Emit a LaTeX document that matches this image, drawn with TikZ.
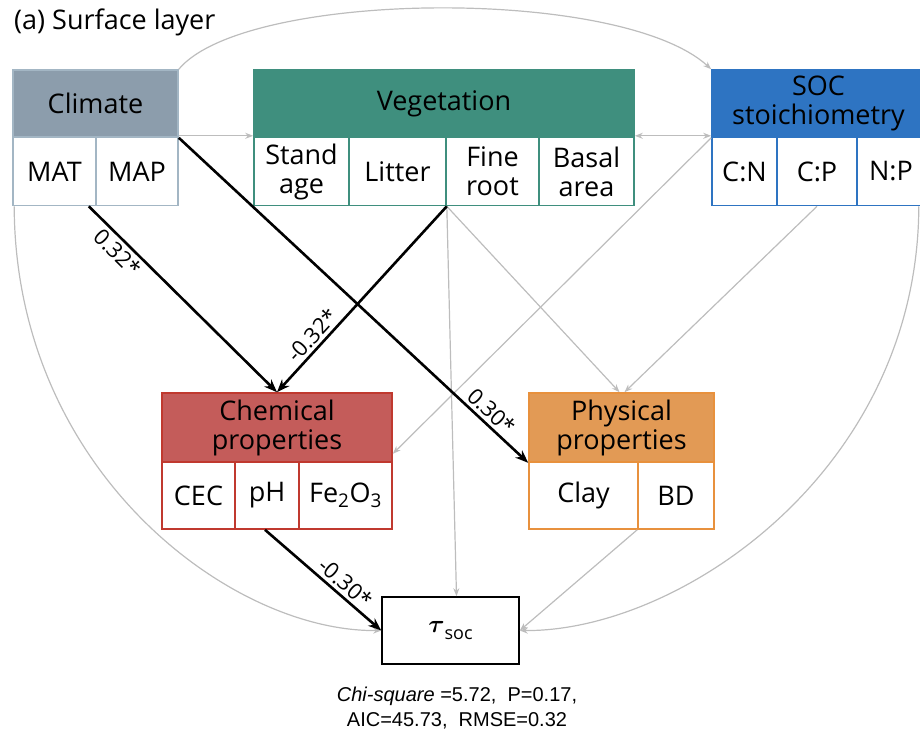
\documentclass[tikz,border=0pt]{standalone}
\usepackage{fontspec}
\setmainfont{Open Sans}
\newfontfamily\statfont{Liberation Sans}
\usepackage{bm}
\usetikzlibrary{arrows.meta,calc}
\definecolor{climF}{HTML}{8C9DAC}
\definecolor{climB}{HTML}{A3B6C4}
\definecolor{vegF}{HTML}{3F8F7E}
\definecolor{vegB}{HTML}{3F8F7E}
\definecolor{socF}{HTML}{2E74C2}
\definecolor{socB}{HTML}{2E74C2}
\definecolor{chemF}{HTML}{C45C5A}
\definecolor{chemB}{HTML}{C0392F}
\definecolor{physF}{HTML}{E29A55}
\definecolor{physB}{HTML}{E8913D}
\definecolor{lgray}{HTML}{BDBDBD}
\begin{document}
\begin{tikzpicture}[x=1pt,y=-1pt,
  font=\fontsize{27}{30}\selectfont,
  box/.style={draw, inner sep=0pt, align=center, line width=1.6pt},
  hdr/.style={box, minimum height=67pt},
  cell/.style={box, fill=white, minimum height=68pt},
  strong/.style={draw=black, line width=2.6pt, -{Stealth[length=13pt,width=10pt]}},
  weak/.style={draw=lgray, line width=1.2pt, -{Stealth[length=8pt,width=6pt]}},
  weakboth/.style={draw=lgray, line width=1.2pt, {Stealth[length=8pt,width=6pt]}-{Stealth[length=8pt,width=6pt]}},
  coef/.style={font=\fontsize{22}{24}\selectfont, inner sep=3pt}
]
\useasboundingbox (0,0) rectangle (920,736);

% title
\node[anchor=west, inner sep=0pt] (title) at (14,22) {(a) Surface layer};

% Climate
\node[hdr, fill=climF, draw=climB, minimum width=165pt] (climh) at (95.5,103.5) {Climate};
\node[cell, draw=climB, minimum width=83pt] (mat) at (54.5,171.5) {MAT};
\node[cell, draw=climB, minimum width=82pt] (map) at (137,171.5) {MAP};

% Vegetation
\node[hdr, fill=vegF, draw=vegB, minimum width=380pt] (vegh) at (444,103.5) {Vegetation};
\node[cell, draw=vegB, minimum width=95pt, font=\fontsize{27}{29}\selectfont] (stand) at (301.5,171.5) {Stand\\age};
\node[cell, draw=vegB, minimum width=97pt] (litter) at (397.5,171.5) {Litter};
\node[cell, draw=vegB, minimum width=93pt, font=\fontsize{27}{29}\selectfont] (fine) at (492.5,171.5) {Fine\\root};
\node[cell, draw=vegB, minimum width=95pt, font=\fontsize{27}{29}\selectfont] (basal) at (586.5,171.5) {Basal\\area};

% SOC stoichiometry
\node[hdr, fill=socF, draw=socB, minimum width=213pt, font=\fontsize{27}{29}\selectfont] (soch) at (818.5,103.5) {SOC\\stoichiometry};
\node[cell, draw=socB, minimum width=65pt] (cn) at (744.5,171.5) {C:N};
\node[cell, draw=socB, minimum width=80pt] (cp) at (817,171.5) {C:P};
\node[cell, draw=socB, minimum width=68pt] (np) at (891,171.5) {N:P};

% Chemical properties
\node[hdr, fill=chemF, draw=chemB, minimum width=230pt, minimum height=69pt, font=\fontsize{27}{29}\selectfont] (chemh) at (277,427.5) {Chemical\\properties};
\node[cell, draw=chemB, minimum width=73pt, minimum height=67pt] (cec) at (198.5,495.5) {CEC};
\node[cell, draw=chemB, minimum width=64pt, minimum height=67pt] (ph) at (267,495.5) {pH};
\node[cell, draw=chemB, minimum width=93pt, minimum height=67pt] (fe) at (345.5,495.5) {Fe\textsubscript{2}O\textsubscript{3}};

% Physical properties
\node[hdr, fill=physF, draw=physB, minimum width=185pt, minimum height=69pt, font=\fontsize{27}{29}\selectfont] (physh) at (621.5,427.5) {Physical\\properties};
\node[cell, draw=physB, minimum width=109pt, minimum height=67pt] (clay) at (583.5,495.5) {Clay};
\node[cell, draw=physB, minimum width=76pt, minimum height=67pt] (bd) at (676,495.5) {BD};

% tau
\node[box, draw=black, fill=white, minimum width=137pt, minimum height=67pt] (tau) at (450.5,630.5)
  {\fontsize{34}{34}\selectfont$\bm{\tau}$\raisebox{-7pt}{\fontsize{18}{18}\selectfont soc}};

% stats
\node[align=center, inner sep=0pt, font=\statfont\fontsize{20}{25}\selectfont] (stats) at (457,708)
  {\textit{Chi-square} =5.72,~ P=0.17,\\AIC=45.73,~ RMSE=0.32};

% gray connectors
\draw[weak] ([yshift=2pt]climh.south east) -- ([yshift=2pt]vegh.south west);
\draw[weakboth] ([yshift=2pt]vegh.south east) -- ([yshift=2pt]soch.south west);
\draw[weak] (climh.north east) .. controls (245,-10) and (620,-14) .. (soch.north west);
\draw[weak] (litter.south east) -- ([xshift=6pt]tau.north);
\draw[weak] (litter.south east) -- ([xshift=-2pt]physh.north);
\draw[weak] (soch.south west) -- ([yshift=9pt]chemh.south east);
\draw[weak] (cp.south) -- ([xshift=3pt]physh.north);
\draw[weak] (bd.south west) -- (tau.east);
\draw[weak] ([xshift=2pt]mat.south west) .. controls (15,470) and (230,632) .. (tau.west);
\draw[weak] ([xshift=-7pt]np.south east) .. controls (918,470) and (680,632) .. (tau.east);

% black connectors
\draw[strong] ([xshift=-8pt]mat.south east) -- node[coef, sloped, below, pos=0.2] {0.32*} (chemh.north);
\draw[strong] (litter.south east) -- node[coef, sloped, above, pos=0.74] {-0.32*} (chemh.north);
\draw[strong] (climh.south east) -- node[coef, sloped, above, pos=0.87] {0.30*} (physh.south west);
\draw[strong] ([xshift=-2pt]ph.south) -- node[coef, sloped, above, pos=0.62] {-0.30*} (tau.west);
\end{tikzpicture}
\end{document}
